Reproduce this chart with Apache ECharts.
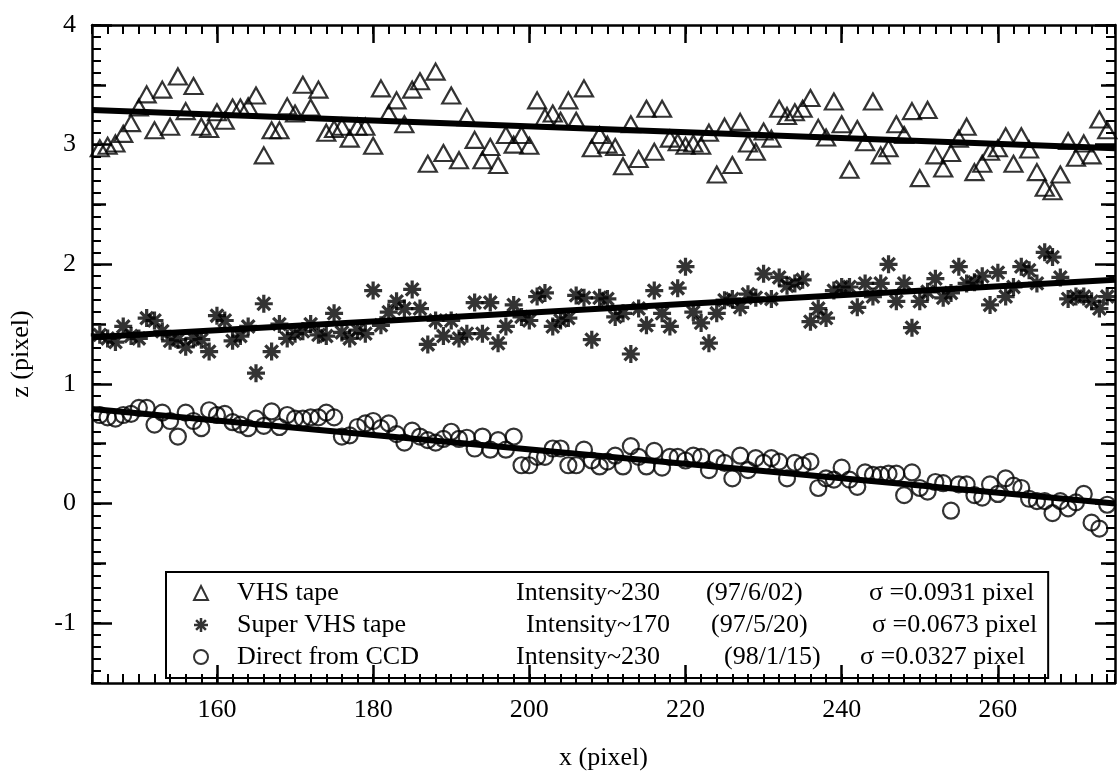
<!DOCTYPE html>
<html>
<head>
<meta charset="utf-8">
<script src="https://cdn.jsdelivr.net/npm/echarts@6.0.0/dist/echarts.min.js"></script>
<style>html,body{margin:0;padding:0;background:#fff}#c{width:1119px;height:776px}</style>
</head>
<body>
<div id="c"></div>
<script>
// ---------------- data ----------------
const xPix = [145,146,147,148,149,150,151,152,153,154,155,156,157,158,159,160,161,162,163,164,165,166,167,168,169,170,171,172,173,174,175,176,177,178,179,180,181,182,183,184,185,186,187,188,189,190,191,192,193,194,195,196,197,198,199,200,201,202,203,204,205,206,207,208,209,210,211,212,213,214,215,216,217,218,219,220,221,222,223,224,225,226,227,228,229,230,231,232,233,234,235,236,237,238,239,240,241,242,243,244,245,246,247,248,249,250,251,252,253,254,255,256,257,258,259,260,261,262,263,264,265,266,267,268,269,270,271,272,273,274];

const vhsZ = [2.97,2.99,3.01,3.09,3.18,3.31,3.42,3.12,3.46,3.15,3.57,3.28,3.49,3.15,3.13,3.27,3.20,3.31,3.31,3.32,3.41,2.91,3.12,3.12,3.32,3.26,3.50,3.31,3.46,3.10,3.13,3.15,3.05,3.15,3.15,2.99,3.47,3.26,3.37,3.17,3.46,3.53,2.84,3.61,2.93,3.41,2.87,
  3.23,3.04,2.87,2.98,2.83,3.08,3.00,3.08,2.99,3.37,3.23,3.26,3.20,3.37,3.20,3.47,2.97,3.08,3.00,2.98,2.82,3.17,2.88,3.30,2.94,3.30,3.05,3.02,2.99,3.01,2.99,3.10,2.75,3.15,2.83,3.19,3.01,2.94,3.11,3.05,3.30,3.24,3.27,3.30,3.39,3.14,
  3.06,3.36,3.17,2.79,3.13,3.02,3.36,2.91,2.97,3.17,3.08,3.28,2.72,3.29,2.91,2.80,2.93,3.05,3.15,2.77,2.84,2.94,2.97,3.07,2.84,3.07,2.96,2.77,2.64,2.61,2.75,3.03,2.89,3.01,2.91,3.21,3.12];

const svhsZ = [1.41,1.38,1.35,1.48,1.40,1.38,1.55,1.53,1.44,1.36,1.37,1.31,1.38,1.37,1.27,1.57,1.53,1.36,1.40,1.48,1.09,1.67,1.27,1.50,1.38,1.42,1.44,1.50,1.41,1.40,1.59,1.43,1.38,1.45,1.42,1.78,1.49,1.60,1.69,1.63,1.79,1.63,1.33,1.53,1.40,1.53,1.38,
  1.42,1.68,1.42,1.68,1.34,1.48,1.66,1.56,1.53,1.73,1.76,1.48,1.53,1.55,1.74,1.72,1.37,1.72,1.71,1.56,1.59,1.25,1.63,1.49,1.78,1.59,1.48,1.80,1.98,1.60,1.51,1.34,1.59,1.70,1.71,1.64,1.75,1.72,1.92,1.71,1.89,1.82,1.84,1.87,1.52,
  1.63,1.55,1.78,1.81,1.81,1.64,1.84,1.73,1.84,2.00,1.69,1.84,1.47,1.69,1.77,1.88,1.72,1.76,1.98,1.84,1.85,1.90,1.66,1.93,1.73,1.81,1.98,1.95,1.84,2.10,2.06,1.89,1.71,1.73,1.73,1.69,1.63,1.73];

const ccdZ = [0.74,0.72,0.71,0.74,0.75,0.80,0.80,0.66,0.76,0.69,0.56,0.76,0.69,0.63,0.78,0.74,0.75,0.68,0.66,0.63,0.71,0.65,0.77,0.64,0.74,0.71,0.71,0.72,0.72,0.76,0.72,0.56,0.57,0.64,0.67,0.69,0.63,0.67,0.58,0.51,0.61,0.56,0.53,0.51,0.54,0.60,0.54,
  0.55,0.46,0.56,0.45,0.53,0.45,0.56,0.32,0.32,0.39,0.39,0.46,0.46,0.32,0.32,0.45,0.36,0.31,0.35,0.40,0.31,0.48,0.39,0.31,0.44,0.30,0.39,0.39,0.36,0.40,0.39,0.28,0.38,0.34,0.21,0.40,0.28,0.38,0.34,0.38,0.35,0.21,0.34,0.32,0.35,0.13,
  0.21,0.20,0.30,0.20,0.14,0.26,0.24,0.24,0.25,0.25,0.07,0.26,0.13,0.10,0.18,0.17,-0.06,0.16,0.16,0.07,0.05,0.16,0.08,0.21,0.15,0.13,0.04,0.02,0.02,-0.08,0.02,-0.04,0.01,0.08,-0.16,-0.21,-0.01];

const fitX = [144, 275];
const fitVHS = [3.29, 2.97];
const fitSVHS = [1.39, 1.87];
const fitCCD = [0.79, 0.00];

const xTickLabels = [160, 180, 200, 220, 240, 260];
const yTickLabels = [-1, 0, 1, 2, 3, 4];
const yHalfTicks = [-0.5, 0.5, 1.5, 2.5, 3.5];

const seriesNames = ['VHS tape', 'Super VHS tape', 'Direct from CCD'];
const intensities = ['Intensity~230', 'Intensity~170', 'Intensity~230'];
const dates = ['(97/6/02)', '(97/5/20)', '(98/1/15)'];
const sigmas = ['σ =0.0931 pixel', 'σ =0.0673 pixel', 'σ =0.0327 pixel'];

// ---------------- styles ----------------
const FONT = '"Liberation Serif", "Times New Roman", serif';
const BLACK = '#000';
const ASTERISK = 'path://M41 0L59 0L59 100L41 100Z M0 41L100 41L100 59L0 59Z M8.6 21.4L21.4 8.6L91.4 78.6L78.6 91.4Z M78.6 8.6L91.4 21.4L21.4 91.4L8.6 78.6Z';
const legendCols = [
  {name: 279, inten: 190, date: 163},
  {name: 289, inten: 185, date: 161},
  {name: 279, inten: 208, date: 136}
];

function xAx(pos, opts) {
  return Object.assign({
    type: 'value', min: 144, max: 275, interval: 2, position: pos,
    axisLine: {show: false, onZero: false, lineStyle: {color: BLACK, width: 2.5}},
    axisTick: {show: true, inside: true, length: 9, lineStyle: {color: BLACK, width: 2}},
    axisLabel: {show: false},
    splitLine: {show: false}
  }, opts);
}
function yAx(pos, opts) {
  return Object.assign({
    type: 'value', min: -1.5, max: 4, interval: 0.1, position: pos,
    axisLine: {show: false, onZero: false, lineStyle: {color: BLACK, width: 2.5}},
    axisTick: {show: true, inside: true, length: 9, lineStyle: {color: BLACK, width: 2}},
    axisLabel: {show: false},
    splitLine: {show: false}
  }, opts);
}
const longTick = (vals, len) => ({show: true, inside: true, length: len, customValues: vals, lineStyle: {color: BLACK, width: 2.5}});

const rich = {g: {width: 24}, s: {fontFamily: FONT, fontSize: 26, color: BLACK}};
legendCols.forEach((c, i) => {
  rich['n' + i] = {width: c.name, fontFamily: FONT, fontSize: 26, color: BLACK};
  rich['i' + i] = {width: c.inten, fontFamily: FONT, fontSize: 26, color: BLACK};
  rich['d' + i] = {width: c.date, fontFamily: FONT, fontSize: 26, color: BLACK};
});

const option = {
  animation: false,
  backgroundColor: '#fff',
  grid: {left: 88, right: 4, top: 25, bottom: 85, containLabel: false},
  xAxis: [
    xAx('bottom', {
      axisLine: {show: true, onZero: false, lineStyle: {color: BLACK, width: 2.5}},
      axisLabel: {show: true, customValues: xTickLabels, color: BLACK, fontFamily: FONT, fontSize: 26, margin: 14},
      name: 'x (pixel)', nameLocation: 'middle', nameGap: 62,
      nameTextStyle: {color: BLACK, fontFamily: FONT, fontSize: 26}
    }),
    xAx('bottom', {axisTick: longTick(xTickLabels, 18)}),
    xAx('top', {axisLine: {show: true, onZero: false, lineStyle: {color: BLACK, width: 2.5}}}),
    xAx('top', {axisTick: longTick(xTickLabels, 18)})
  ],
  yAxis: [
    yAx('left', {
      axisLine: {show: true, onZero: false, lineStyle: {color: BLACK, width: 2.5}},
      axisLabel: {show: true, customValues: yTickLabels, color: BLACK, fontFamily: FONT, fontSize: 26, margin: 16},
      name: 'z (pixel)', nameLocation: 'middle', nameGap: 58, nameRotate: 90,
      nameTextStyle: {color: BLACK, fontFamily: FONT, fontSize: 26}
    }),
    yAx('left', {axisTick: longTick(yTickLabels, 20)}),
    yAx('left', {axisTick: longTick(yHalfTicks, 14)}),
    yAx('right', {axisLine: {show: true, onZero: false, lineStyle: {color: BLACK, width: 2.5}}}),
    yAx('right', {axisTick: longTick(yTickLabels, 20)}),
    yAx('right', {axisTick: longTick(yHalfTicks, 14)})
  ],
  legend: {
    data: seriesNames,
    orient: 'vertical',
    left: 166, top: 572,
    padding: [5, 11, 5, 27],
    itemGap: 0, itemWidth: 14, itemHeight: 14,
    borderColor: BLACK, borderWidth: 2,
    selectedMode: false,
    textStyle: {fontFamily: FONT, fontSize: 26, color: BLACK, lineHeight: 32, rich: rich},
    formatter: function (name) {
      const i = seriesNames.indexOf(name);
      return '{g|}{n' + i + '|' + name + '}{i' + i + '|' + intensities[i] + '}{d' + i + '|' + dates[i] + '}{s|' + sigmas[i] + '}';
    }
  },
  series: [
    {
      name: seriesNames[0], type: 'scatter', symbol: 'triangle', symbolSize: [18, 16],
      itemStyle: {color: 'rgba(255,255,255,0)', borderColor: BLACK, borderWidth: 2.2},
      data: xPix.map((x, i) => [x, vhsZ[i]]), z: 2
    },
    {
      name: seriesNames[1], type: 'scatter', symbol: ASTERISK, symbolSize: 18,
      itemStyle: {color: BLACK},
      data: xPix.map((x, i) => [x, svhsZ[i]]), z: 2
    },
    {
      name: seriesNames[2], type: 'scatter', symbol: 'circle', symbolSize: 16,
      itemStyle: {color: 'rgba(255,255,255,0)', borderColor: BLACK, borderWidth: 2.2},
      data: xPix.map((x, i) => [x, ccdZ[i]]), z: 2
    },
    {name: 'fitVHS', type: 'line', symbol: 'none', silent: true, z: 3,
      lineStyle: {color: BLACK, width: 6}, data: fitX.map((x, i) => [x, fitVHS[i]])},
    {name: 'fitSVHS', type: 'line', symbol: 'none', silent: true, z: 3,
      lineStyle: {color: BLACK, width: 6}, data: fitX.map((x, i) => [x, fitSVHS[i]])},
    {name: 'fitCCD', type: 'line', symbol: 'none', silent: true, z: 3,
      lineStyle: {color: BLACK, width: 6}, data: fitX.map((x, i) => [x, fitCCD[i]])}
  ]
};

const chart = echarts.init(document.getElementById('c'), null, {renderer: 'canvas'});
chart.setOption(option);
</script>
</body>
</html>
